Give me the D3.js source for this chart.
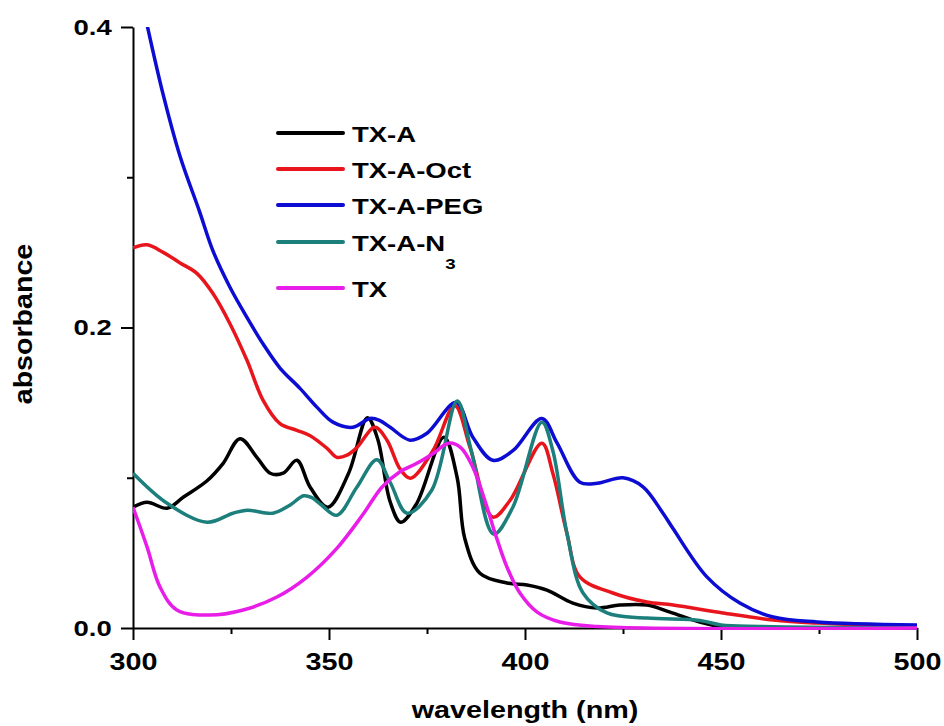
<!DOCTYPE html>
<html>
<head>
<meta charset="utf-8">
<script src="https://cdn.jsdelivr.net/npm/d3@7"></script>
<style>
  body { margin: 0; background: #fff; }
  svg text { font-family: "Liberation Sans", Arial, sans-serif; font-weight: bold; fill: #000; }
</style>
</head>
<body>
<svg id="chart" width="944" height="726"></svg>
<script>
// spectra: [wavelength nm, absorbance]
const txA = [
  [300, 0.0804], [303.6, 0.0837], [308.7, 0.0797], [312.8, 0.087], [318.9, 0.098], [323, 0.1096],
  [327.3, 0.126], [331.6, 0.1136], [335, 0.103], [338.3, 0.103], [341.8, 0.1116], [345.2, 0.0937],
  [349.7, 0.0804], [355, 0.103], [359.8, 0.140], [362.4, 0.126], [365.6, 0.084], [368.3, 0.0704],
  [372.4, 0.083], [379.3, 0.127], [382.7, 0.100], [384.6, 0.060], [388.5, 0.0365],
  [395.4, 0.030], [400.5, 0.0286], [405.6, 0.0252], [412.2, 0.0166], [418.4, 0.0133], [424.2, 0.0153],
  [431.1, 0.0153], [437, 0.0106], [444.6, 0.004], [450, 0.001], [500, 0]
];
const txAOct = [
  [300, 0.253], [303.6, 0.255], [307.7, 0.250], [312, 0.243], [316.3, 0.236], [320.4, 0.2226],
  [324.7, 0.2027], [329.1, 0.178], [333.2, 0.1515], [337.5, 0.136], [341.8, 0.1316], [345.2, 0.128],
  [349.5, 0.1196], [352, 0.1136], [354.6, 0.115], [357.1, 0.120], [361.7, 0.1336], [364.8, 0.125],
  [368.1, 0.106], [370.8, 0.0997], [376.5, 0.118], [382.1, 0.148], [386, 0.120], [391.8, 0.0738],
  [396.2, 0.085], [404.3, 0.123], [407.1, 0.103], [410.7, 0.063], [414, 0.034], [422.4, 0.0233],
  [431.1, 0.0173], [437.8, 0.0153], [450.5, 0.010], [463.3, 0.0053], [474.5, 0.0033], [500, 0.001]
];
const txAPeg = [
  [302.5, 0.415], [303.8, 0.399], [307.7, 0.355], [312, 0.314], [317, 0.277], [320.4, 0.251],
  [324.7, 0.227], [329.1, 0.2066], [333.2, 0.189], [337.5, 0.173], [342.6, 0.1595], [346.9, 0.147],
  [351, 0.137], [356.1, 0.1336], [360.5, 0.1395], [363, 0.138], [365.6, 0.1336], [370.7, 0.125],
  [375, 0.1296], [382.4, 0.150], [386.7, 0.127], [391.8, 0.1116], [396.9, 0.118], [404.3, 0.1395],
  [408.2, 0.123], [414, 0.097], [418.4, 0.0963], [425, 0.100], [430.1, 0.094], [435.2, 0.0764],
  [437.8, 0.066], [446.4, 0.034], [454.8, 0.0166], [463.3, 0.0073], [474.5, 0.004], [500, 0.002]
];
const txAN3 = [
  [300, 0.103], [308.7, 0.083], [318.9, 0.0704], [325.5, 0.0764], [329.1, 0.0784], [335.7, 0.0764],
  [340, 0.0817], [343.5, 0.088], [345.5, 0.087], [348, 0.082], [352, 0.075], [357.1, 0.0937],
  [362.2, 0.112], [365.6, 0.097], [369.9, 0.0764], [376.2, 0.0917], [382.7, 0.151], [386.3, 0.118],
  [392, 0.0625], [396.9, 0.0804], [404.3, 0.137], [407.1, 0.118], [410.7, 0.063], [414.8, 0.0233],
  [420.9, 0.010], [431.1, 0.0066], [444.6, 0.005], [450, 0.002], [460, 0.001], [500, 0]
];
const tx = [
  [300, 0.0804], [303.6, 0.0538], [306.9, 0.0272], [311.2, 0.012], [319.6, 0.0086], [328.1, 0.012],
  [336.7, 0.0206], [344.4, 0.0339], [352, 0.053], [358.5, 0.075], [363.5, 0.0937], [368.1, 0.104],
  [372.4, 0.1096], [376.5, 0.116], [380.5, 0.123], [383.6, 0.120], [386.7, 0.107], [390, 0.083],
  [392.5, 0.062], [395.4, 0.0405], [398.7, 0.0233], [403.1, 0.0106], [408.9, 0.004], [418.4, 0.001],
  [500, 0]
];

const seriesNames = ['TX-A', 'TX-A-Oct', 'TX-A-PEG', 'TX-A-N3', 'TX'];
const seriesData = [txA, txAOct, txAPeg, txAN3, tx];
const seriesColors = ['#000000', '#e8161c', '#0c0cd2', '#1c7f7c', '#e81ee8'];

const xMajor = [300, 350, 400, 450, 500];
const xMinor = [325, 375, 425, 475];
const yMajor = [0, 0.2, 0.4];
const yMinor = [0.1, 0.3];

const SX = 1.25; // the source figure's lettering is horizontally stretched

const svg = d3.select('#chart');
const x = d3.scaleLinear().domain([300, 500]).range([133, 917]);
const y = d3.scaleLinear().domain([0, 0.4]).range([628, 27]);

svg.append('defs').append('clipPath').attr('id', 'plot-clip')
  .append('rect').attr('x', 133).attr('y', 27).attr('width', 800).attr('height', 603);

// axes
const gx = svg.append('g').attr('transform', `translate(0,${y(0)})`);
gx.call(d3.axisBottom(x).tickValues(xMinor).tickSize(6).tickSizeOuter(0).tickFormat(''));
gx.call(g => g.select('.domain').remove());
const gxMaj = svg.append('g').attr('transform', `translate(0,${y(0)})`)
  .call(d3.axisBottom(x).tickValues(xMajor).tickSize(12).tickSizeOuter(0).tickFormat(d3.format('d')));

const gy = svg.append('g').attr('transform', `translate(${x(300)},0)`);
gy.call(d3.axisLeft(y).tickValues(yMinor).tickSize(6).tickSizeOuter(0).tickFormat(''));
gy.call(g => g.select('.domain').remove());
const gyMaj = svg.append('g').attr('transform', `translate(${x(300)},0)`)
  .call(d3.axisLeft(y).tickValues(yMajor).tickSize(12).tickSizeOuter(0).tickFormat(d3.format('.1f')));

svg.selectAll('.domain, .tick line').attr('stroke', '#000').attr('stroke-width', 2);
gxMaj.selectAll('text')
  .attr('y', 42).attr('dy', null)
  .attr('font-size', 23)
  .attr('transform', `scale(${SX},1)`);
gyMaj.selectAll('text')
  .attr('x', -17).attr('dy', '0.32em')
  .attr('font-size', 22)
  .attr('transform', `scale(${SX},1)`);

// axis titles
svg.append('text')
  .attr('transform', `translate(525,718) scale(${SX},1)`)
  .attr('text-anchor', 'middle').attr('font-size', 23)
  .text('wavelength (nm)');
svg.append('text')
  .attr('transform', `translate(32,324) rotate(-90) scale(1.1,1)`)
  .attr('text-anchor', 'middle').attr('font-size', 26)
  .text('absorbance');

// spectra
const line = d3.line().x(d => x(d[0])).y(d => y(d[1])).curve(d3.curveCatmullRom.alpha(0.5));
svg.append('g').attr('clip-path', 'url(#plot-clip)')
  .selectAll('path')
  .data(seriesData)
  .join('path')
  .attr('d', line)
  .attr('fill', 'none')
  .attr('stroke', (d, i) => seriesColors[i])
  .attr('stroke-width', 3.5)
  .attr('stroke-linejoin', 'round');

// legend
const legendY = [133, 169, 205, 242, 288];
const legend = svg.append('g');
seriesNames.forEach((name, i) => {
  legend.append('line')
    .attr('x1', 278).attr('x2', 343)
    .attr('y1', legendY[i]).attr('y2', legendY[i])
    .attr('stroke', seriesColors[i]).attr('stroke-width', 4)
    .attr('stroke-linecap', 'round');
  const t = legend.append('text')
    .attr('transform', `translate(352,${legendY[i] + 9}) scale(${SX},1)`)
    .attr('font-size', 22);
  if (name === 'TX-A-N3') {
    t.append('tspan').text('TX-A-N');
    t.append('tspan').attr('font-size', 15).attr('dy', 18).text('3');
  } else {
    t.text(name);
  }
});
</script>
</body>
</html>
